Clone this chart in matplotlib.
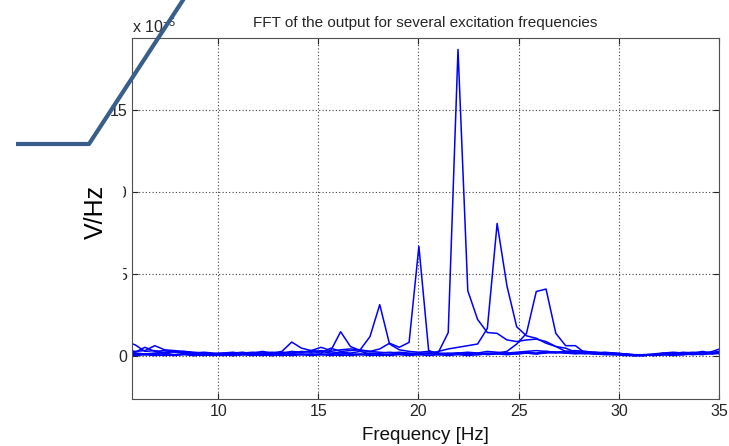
import numpy as np
import matplotlib
matplotlib.use('Agg')
from matplotlib import pyplot as plt
from matplotlib.lines import Line2D
from matplotlib.patches import Rectangle
from matplotlib.ticker import FuncFormatter

plt.rcParams['font.family'] = ['Liberation Sans', 'DejaVu Sans']
plt.rcParams['mathtext.fontset'] = 'custom'
plt.rcParams['mathtext.rm'] = 'Liberation Sans'

# FFT bins (1000 Hz, 2048 points) from bin 11 to 72
bins = np.arange(11, 73)
freq = bins * 1000.0 / 2048

# amplitude in units of 1e-5 V/Hz, one spectrum per excitation frequency
amp_14 = [0.9, 0.7, 0.3, 0.35, 0.2, 0.3, 0.25, 0.15, 0.2, 0.15,
          0.2, 0.25, 0.15, 0.2, 0.3, 0.2, 0.3, 0.87, 0.5, 0.35,
          0.3, 0.2, 0.25, 0.2, 0.3, 0.15, 0.2, 0.25, 0.2, 0.15,
          0.2, 0.15, 0.1, 0.15, 0.2, 0.15, 0.2, 0.1, 0.15, 0.2,
          0.15, 0.2, 0.15, 0.25, 0.2, 0.3, 0.25, 0.2, 0.15, 0.2,
          0.15, 0.1, 0.05, 0.05, 0.1, 0.15, 0.2, 0.15, 0.2, 0.15,
          0.3, 0.5]
amp_16 = [0.3, 0.25, 0.55, 0.3, 0.35, 0.25, 0.3, 0.2, 0.25, 0.2,
          0.15, 0.2, 0.25, 0.15, 0.2, 0.25, 0.2, 0.3, 0.25, 0.35,
          0.55, 0.35, 1.5, 0.6, 0.35, 0.3, 0.25, 0.2, 0.25, 0.2,
          0.15, 0.2, 0.15, 0.1, 0.2, 0.15, 0.1, 0.15, 0.2, 0.15,
          0.2, 0.25, 0.2, 0.3, 0.25, 0.2, 0.25, 0.3, 0.2, 0.25,
          0.2, 0.15, 0.1, 0.05, 0.1, 0.2, 0.15, 0.25, 0.2, 0.3,
          0.2, 0.35]
amp_18 = [0.4, 0.3, 0.35, 0.65, 0.4, 0.35, 0.3, 0.25, 0.2, 0.15,
          0.2, 0.15, 0.2, 0.25, 0.2, 0.15, 0.25, 0.2, 0.3, 0.25,
          0.35, 0.3, 0.4, 0.45, 0.4, 1.2, 3.15, 0.75, 0.4, 0.3,
          0.25, 0.3, 0.2, 0.15, 0.2, 0.25, 0.2, 0.3, 0.25, 0.2,
          0.25, 0.3, 0.35, 0.3, 0.25, 0.3, 0.35, 0.3, 0.25, 0.2,
          0.2, 0.15, 0.1, 0.1, 0.15, 0.2, 0.25, 0.2, 0.25, 0.2,
          0.25, 0.3]
amp_20 = [0.25, 0.2, 0.15, 0.2, 0.25, 0.3, 0.2, 0.15, 0.1, 0.15,
          0.1, 0.15, 0.2, 0.15, 0.1, 0.2, 0.15, 0.2, 0.25, 0.3,
          0.2, 0.5, 0.3, 0.35, 0.4, 0.3, 0.45, 0.8, 0.55, 0.85,
          6.7, 0.35, 0.15, 0.2, 0.15, 0.1, 0.15, 0.2, 0.15, 0.1,
          0.15, 0.2, 0.15, 0.2, 0.25, 0.2, 0.15, 0.2, 0.25, 0.2,
          0.15, 0.1, 0.05, 0.1, 0.05, 0.1, 0.15, 0.2, 0.15, 0.2,
          0.15, 0.25]
amp_22 = [0.2, 0.15, 0.1, 0.15, 0.2, 0.1, 0.15, 0.05, 0.1, 0.15,
          0.1, 0.05, 0.1, 0.15, 0.1, 0.05, 0.1, 0.15, 0.1, 0.15,
          0.1, 0.15, 0.2, 0.15, 0.1, 0.2, 0.15, 0.1, 0.2, 0.15,
          0.1, 0.2, 0.25, 1.45, 18.7, 4.0, 2.25, 1.45, 1.4, 1.0,
          0.9, 1.0, 1.05, 0.9, 0.6, 0.3, 0.2, 0.15, 0.2, 0.15,
          0.1, 0.15, 0.05, 0.05, 0.1, 0.15, 0.1, 0.15, 0.1, 0.15,
          0.2, 0.15]
amp_24 = [0.15, 0.1, 0.15, 0.1, 0.05, 0.1, 0.15, 0.1, 0.05, 0.1,
          0.05, 0.1, 0.15, 0.1, 0.05, 0.1, 0.05, 0.1, 0.15, 0.1,
          0.15, 0.1, 0.05, 0.1, 0.15, 0.1, 0.05, 0.1, 0.15, 0.1,
          0.2, 0.15, 0.3, 0.45, 0.55, 0.65, 0.75, 1.7, 8.1, 4.3,
          1.8, 1.25, 1.1, 0.8, 0.6, 0.5, 0.25, 0.2, 0.15, 0.2,
          0.15, 0.1, 0.05, 0.05, 0.1, 0.1, 0.15, 0.1, 0.15, 0.2,
          0.15, 0.2]
amp_26 = [0.1, 0.05, 0.1, 0.05, 0.1, 0.05, 0.1, 0.05, 0.1, 0.05,
          0.1, 0.05, 0.1, 0.05, 0.1, 0.05, 0.1, 0.05, 0.1, 0.05,
          0.1, 0.05, 0.1, 0.05, 0.1, 0.05, 0.1, 0.05, 0.1, 0.05,
          0.1, 0.05, 0.1, 0.05, 0.1, 0.05, 0.1, 0.15, 0.2, 0.3,
          0.75, 1.4, 3.95, 4.1, 1.4, 0.65, 0.65, 0.2, 0.15, 0.1,
          0.1, 0.05, 0.05, 0.1, 0.05, 0.1, 0.05, 0.1, 0.15, 0.1,
          0.2, 0.25]
spectra = [amp_14, amp_16, amp_18, amp_20, amp_22, amp_24, amp_26]

x_ticks = [10, 15, 20, 25, 30, 35]
y_ticks = [0, 5, 10, 15]

W, H = 729, 446
fig = plt.figure(figsize=(W / 100, H / 100), dpi=100)
ax = fig.add_axes([132 / W, 1 - 399 / H, 587 / W, 361 / H])

for a in spectra:
    ax.plot(freq, np.array(a) * 1e-5, color='blue', lw=1.1)

ax.set_xlim(5.7, 35)
ax.set_ylim(-2.6e-5, 19.4e-5)
ax.set_xticks(x_ticks)
ax.set_yticks([t * 1e-5 for t in y_ticks])
ax.yaxis.set_major_formatter(FuncFormatter(lambda v, p: '%g' % round(v / 1e-5, 6)))
ax.grid(True, ls=(0, (1, 2)), color='#404040', lw=0.8)
ax.tick_params(direction='in', length=4, labelsize=11.5, colors='#262626',
               top=True, right=True)
for s in ax.spines.values():
    s.set_color('#505050')
    s.set_linewidth(0.8)

ax.set_title('FFT of the output for several excitation frequencies',
             fontsize=11, color='#262626', pad=8)
ax.set_xlabel('Frequency [Hz]', fontsize=13.5, color='#111111', labelpad=6)
ax.text(0.0, 1.005, r'x 10$^{-5}$', transform=ax.transAxes, fontsize=11.5,
        color='#262626', va='bottom', ha='left')

# white box over the left labels, with the new label on top
fig.add_artist(Rectangle((60 / W, 1 - 290 / H), 62 / W, 140 / H,
                         transform=fig.transFigure, color='white', zorder=5))
fig.text(96 / W, 1 - 212 / H, 'V/Hz', rotation=90, fontsize=18,
         ha='center', va='center', color='black', zorder=6)

# slide connector line
lx = np.array([16, 89, 185]) / W
ly = 1 - np.array([144, 144, -3]) / H
fig.add_artist(Line2D(lx, ly, transform=fig.transFigure, color='#3a5e8c',
                      lw=3, solid_capstyle='butt', zorder=10))

fig.savefig('out.png', dpi=100)
